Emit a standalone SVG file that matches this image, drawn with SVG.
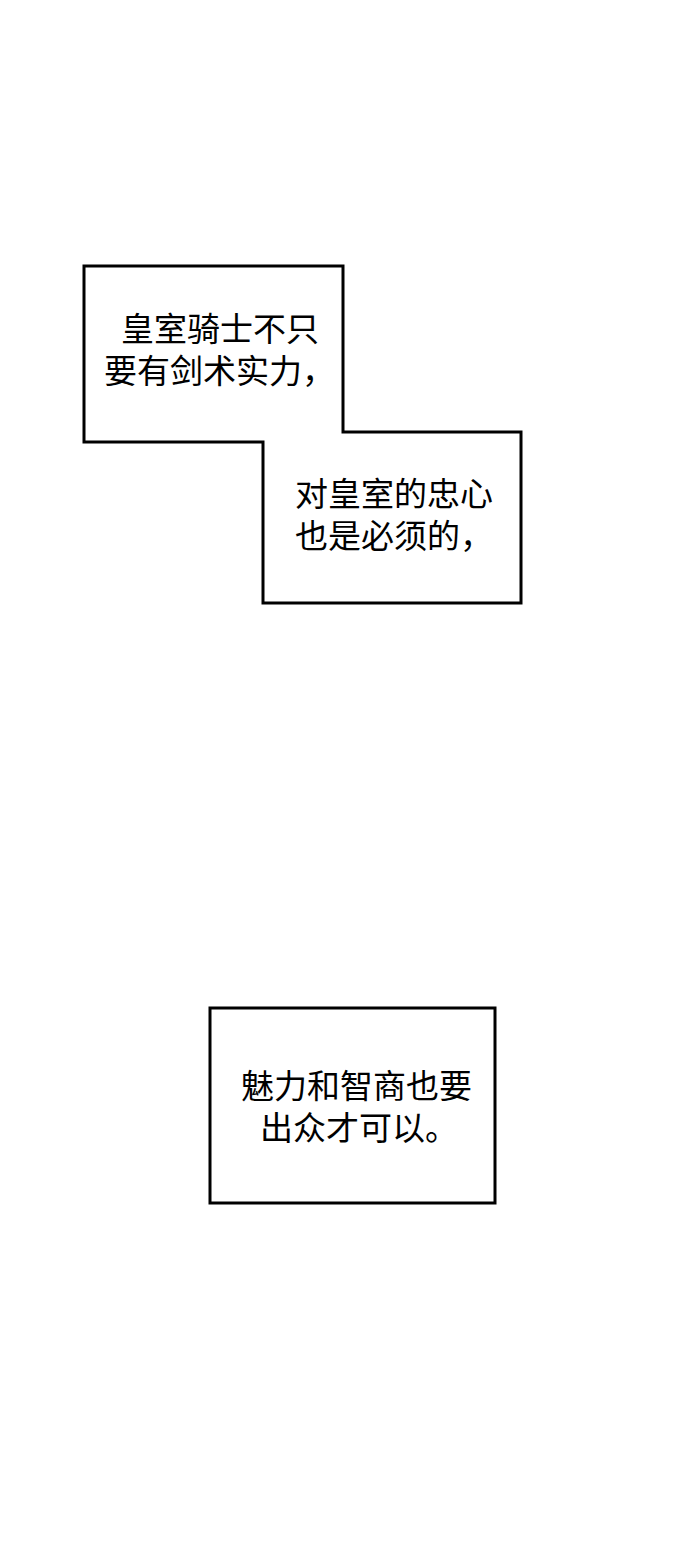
<svg xmlns="http://www.w3.org/2000/svg" width="690" height="1560" viewBox="0 0 690 1560">
<style>
.box{fill:#fff;stroke:#000;stroke-width:3;stroke-linejoin:miter}
.t{font-family:"Noto Sans CJK SC","Noto Sans",sans-serif;font-size:33px;fill:#000}
</style>
<rect x="0" y="0" width="690" height="1560" fill="#fff"/>
<g id="caption1">
<path class="box" d="M84,266 H343 V432 H521 V603 H263 V442 H84 Z"/>
<text class="t"><tspan x="121" y="341">皇室骑士不只</tspan><tspan x="104" y="383">要有剑术实力，</tspan></text>
<text class="t"><tspan x="295" y="506">对皇室的忠心</tspan><tspan x="295" y="548">也是必须的，</tspan></text>
</g>
<g id="caption2">
<rect class="box" x="210" y="1008" width="285" height="195"/>
<text class="t"><tspan x="241" y="1098">魅力和智商也要</tspan><tspan x="260" y="1140">出众才可以。</tspan></text>
</g>
<g id="connectors"/>
</svg>
